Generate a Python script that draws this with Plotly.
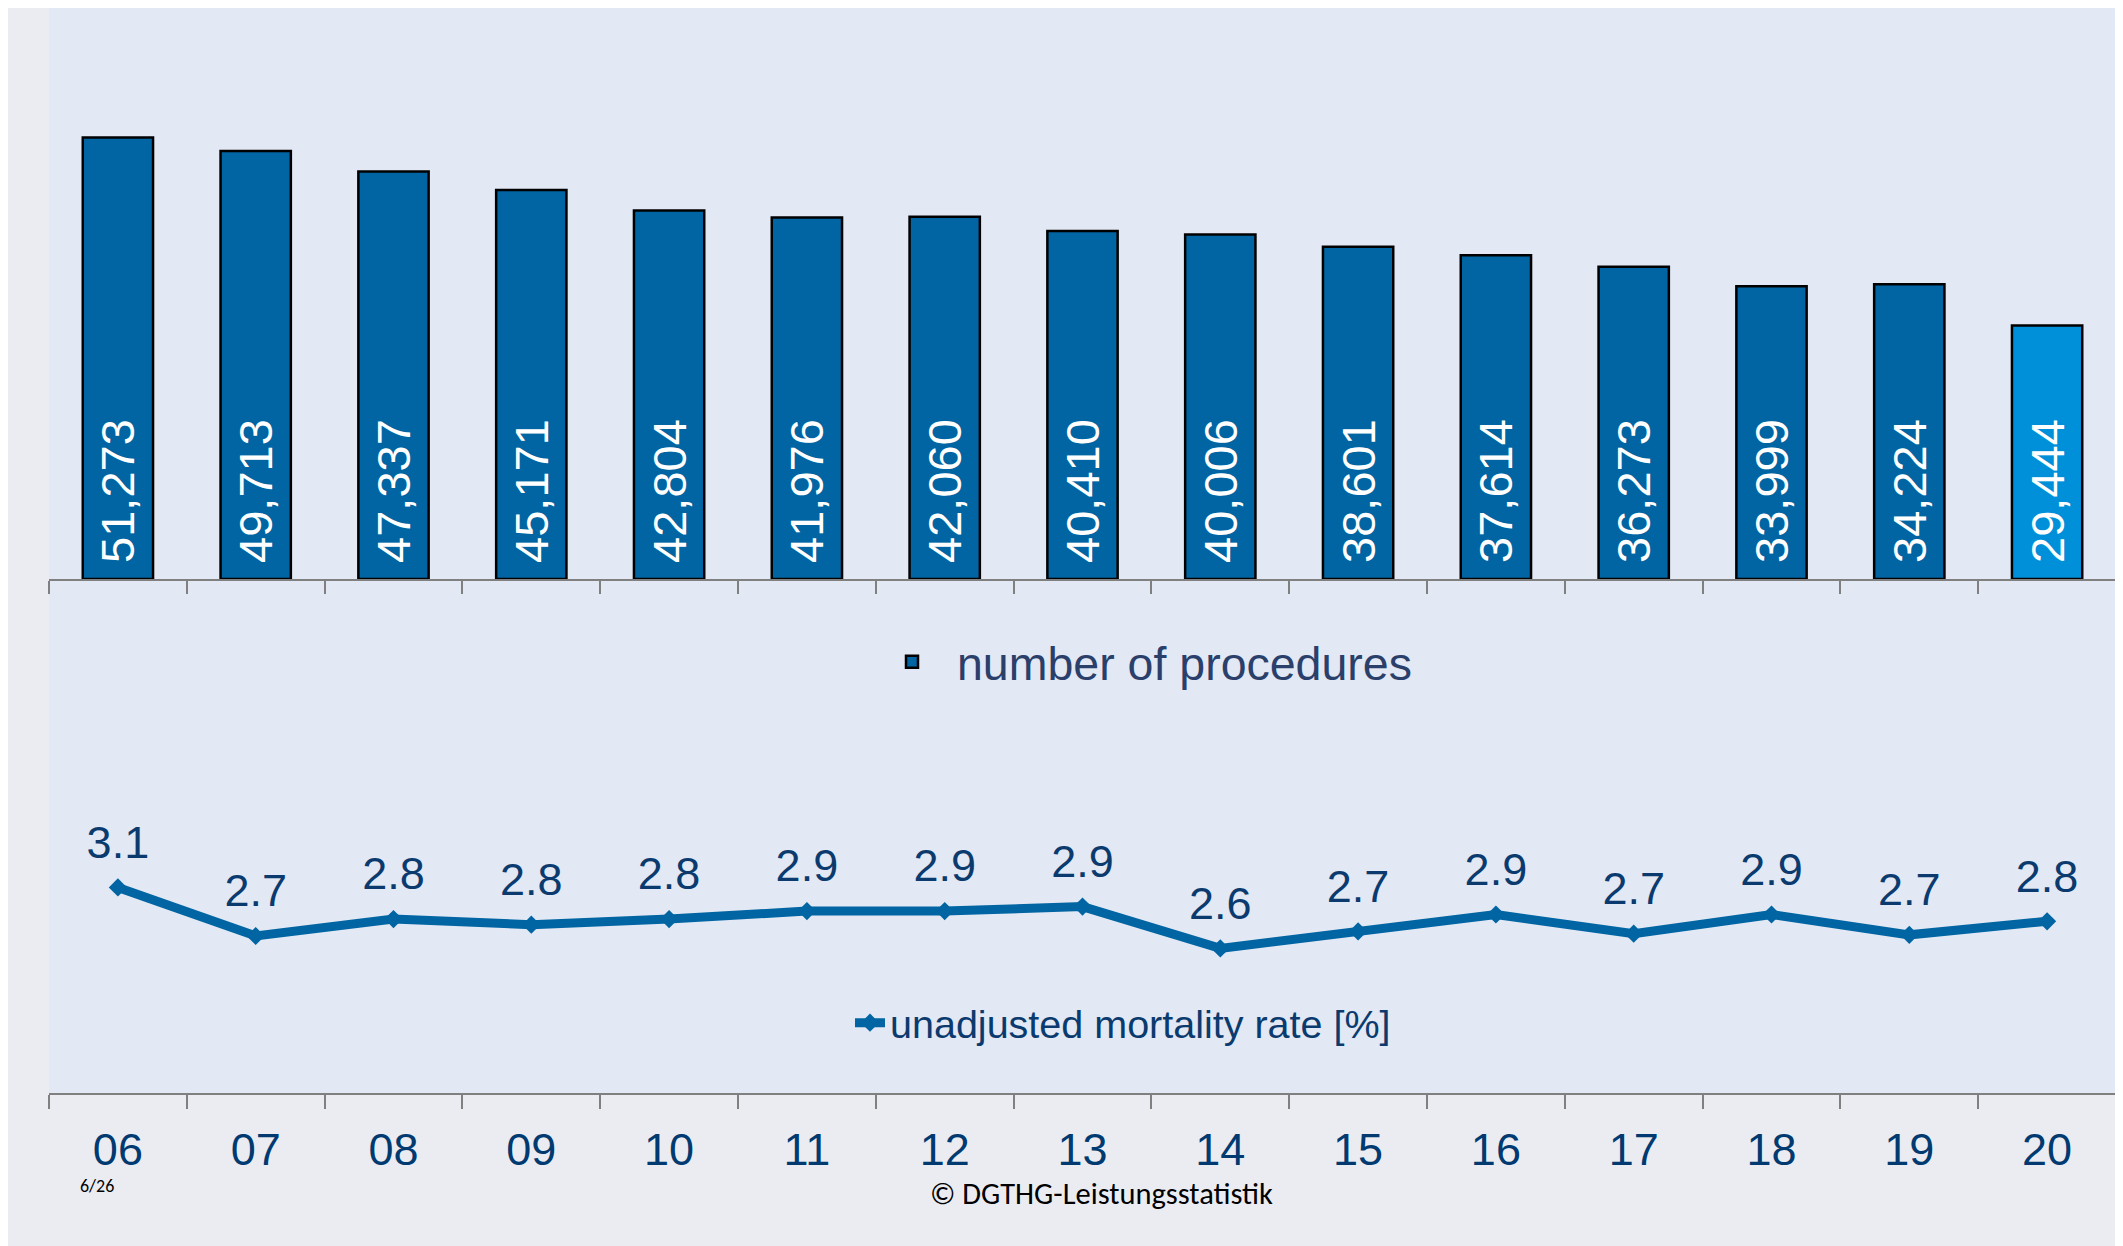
import plotly.graph_objects as go

# ---- data ----
years = ["06", "07", "08", "09", "10", "11", "12", "13", "14", "15", "16", "17", "18", "19", "20"]
procedures = [51273, 49713, 47337, 45171, 42804, 41976, 42060, 40410, 40006,
              38601, 37614, 36273, 33999, 34224, 29444]
mortality = [3.11, 2.68, 2.83, 2.78, 2.83, 2.90, 2.90, 2.94, 2.57,
             2.72, 2.87, 2.70, 2.87, 2.69, 2.81]
bar_name = "number of procedures"
line_name = "unadjusted mortality rate [%]"
highlight_year = "20"
footer_page = "6/26"
footer_source = "© DGTHG-Leistungsstatistik"

# ---- styles ----
FONT = "Liberation Sans, Arial, sans-serif"
DARK = "#0065A2"
LIGHT = "#0090DA"
NAVY = "#0B3B6E"
AXIS_GRAY = "#808080"
bar_colors = [LIGHT if y == highlight_year else DARK for y in years]

fig = go.Figure()

fig.add_trace(go.Bar(
    x=years, y=procedures, name=bar_name,
    marker=dict(color=bar_colors, line=dict(color="black", width=2.5)),
    width=0.51,
    texttemplate="\u00a0%{y:,}", textposition="inside", insidetextanchor="start",
    textangle=-90, textfont=dict(family=FONT, size=47, color="white"),
    xaxis="x", yaxis="y", legend="legend",
))

fig.add_trace(go.Scatter(
    x=years, y=mortality, name=line_name, mode="lines+markers",
    line=dict(color=DARK, width=9),
    marker=dict(symbol="diamond", size=14, color=DARK),
    xaxis="x2", yaxis="y2", legend="legend2",
))

# value labels above the line points
fig.add_trace(go.Scatter(
    x=years, y=mortality, mode="markers+text", showlegend=False, hoverinfo="skip",
    marker=dict(size=28, color="rgba(0,0,0,0)"),
    texttemplate="%{y:.1f}", textposition="top center",
    textfont=dict(family=FONT, size=45, color=NAVY),
    xaxis="x2", yaxis="y2",
))

# page has an 8px body margin: figure is drawn 8px right/down of the window origin
OFF = 8
FIG_W, FIG_H = 2123 - OFF, 1246 - OFF
# plot area in window pixels
PLOT_L, PLOT_R, PLOT_T, PLOT_B = 49, 2116, OFF, 1093
PW = PLOT_R - PLOT_L
PH = PLOT_B - PLOT_T


def px_x(px):
    return (px - PLOT_L) / PW


def px_y(py):
    return (PLOT_B - py) / PH


split = px_y(579)
n = len(years)

axis_common = dict(
    type="category", range=[-0.5, n - 0.5], showline=True, linecolor=AXIS_GRAY, linewidth=1.5,
    ticks="outside", tickson="boundaries", tickcolor=AXIS_GRAY, tickwidth=1.5,
    showgrid=False, zeroline=False, fixedrange=True,
)

fig.update_layout(
    width=FIG_W, height=FIG_H,
    margin=dict(l=PLOT_L - OFF, r=2123 - PLOT_R, t=PLOT_T - OFF, b=1246 - PLOT_B, autoexpand=False),
    paper_bgcolor="#EBECF2", plot_bgcolor="#E2E8F4",
    font=dict(family=FONT),
    xaxis=dict(domain=[0, 1], anchor="y", ticklen=13, showticklabels=False, **axis_common),
    yaxis=dict(domain=[split, 1], range=[0, 66320], visible=False),
    xaxis2=dict(domain=[0, 1], anchor="y2", ticklen=14,
                showticklabels=True, tickfont=dict(family=FONT, size=45, color="#003A70"),
                ticklabelstandoff=16, **axis_common),
    yaxis2=dict(domain=[0, split], range=[1.29, 5.84], visible=False),
    legend=dict(x=px_x(867), y=px_y(662), xanchor="left", yanchor="middle",
                bgcolor="rgba(0,0,0,0)", itemwidth=80,
                font=dict(family=FONT, size=46.5, color="#2B3F6B")),
    legend2=dict(x=px_x(850), y=px_y(1023), xanchor="left", yanchor="middle",
                 bgcolor="rgba(0,0,0,0)",
                 font=dict(family=FONT, size=39.5, color=NAVY)),
    annotations=[
        dict(text=footer_page, xref="paper", yref="paper", x=px_x(97), y=px_y(1186),
             showarrow=False, xanchor="center", yanchor="middle",
             font=dict(family="Carlito, Lato, sans-serif", size=18, color="black")),
        dict(text=footer_source, xref="paper", yref="paper", x=px_x(1101), y=px_y(1193),
             showarrow=False, xanchor="center", yanchor="middle",
             font=dict(family="Carlito, Lato, sans-serif", size=30.5, color="black")),
    ],
)

fig.write_html("out.html")
